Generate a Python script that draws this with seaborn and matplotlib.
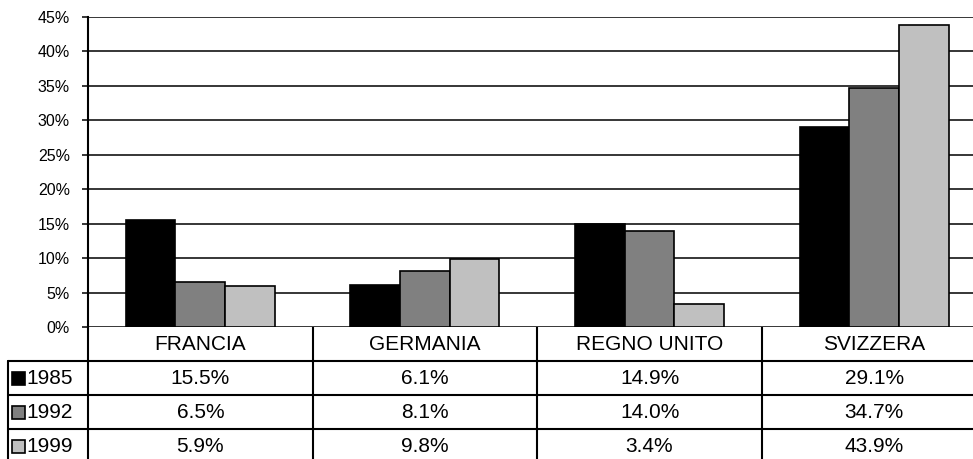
import matplotlib
matplotlib.use("Agg")
import matplotlib.pyplot as plt
import matplotlib.patches as mpatches
import seaborn as sns
import pandas as pd

# Data
countries = ["FRANCIA", "GERMANIA", "REGNO UNITO", "SVIZZERA"]
years = ["1985", "1992", "1999"]
share_1985 = [15.5, 6.1, 14.9, 29.1]
share_1992 = [6.5, 8.1, 14.0, 34.7]
share_1999 = [5.9, 9.8, 3.4, 43.9]
y_ticks = [0, 5, 10, 15, 20, 25, 30, 35, 40, 45]
colors = ["#000000", "#808080", "#C0C0C0"]

series = [share_1985, share_1992, share_1999]
df = pd.DataFrame(
    [(c, y, v) for y, vals in zip(years, series) for c, v in zip(countries, vals)],
    columns=["country", "year", "value"],
)

W, H = 973, 459
sns.set_theme(style="white")
plt.rcParams["font.family"] = ["Liberation Sans", "DejaVu Sans"]

fig = plt.figure(figsize=(W / 100, H / 100), dpi=100)
fig.patch.set_facecolor("white")

# Bar chart area (pixel layout converted to figure fractions);
# the plot runs slightly past the right edge of the canvas
left_px, right_px, top_px, bottom_px = 88, 986.5, 17, 327
ax = fig.add_axes([left_px / W, 1 - bottom_px / H,
                   (right_px - left_px) / W, (bottom_px - top_px) / H])

sns.barplot(data=df, x="country", y="value", hue="year", order=countries,
            hue_order=years, palette=colors, width=0.663, gap=0,
            edgecolor="black", linewidth=1.2, saturation=1, ax=ax, legend=False)

ax.set_xlim(-0.5, len(countries) - 0.5)
ax.set_ylim(0, 45)
ax.set_yticks(y_ticks)
ax.set_yticklabels([f"{t}%" for t in y_ticks], fontsize=11.5)
ax.set_xticks([])
ax.set_xlabel("")
ax.set_ylabel("")
ax.yaxis.grid(True, color="black", linewidth=1.1)
ax.set_axisbelow(True)
ax.tick_params(axis="y", direction="out", length=4, width=1.1, pad=9,
               left=True, colors="black")
for side in ["top", "right", "bottom"]:
    ax.spines[side].set_visible(False)
ax.spines["left"].set_color("black")
ax.spines["left"].set_linewidth(1.5)
ax.spines["left"].set_zorder(5)

# Data table underneath, drawn in pixel coordinates
tab = fig.add_axes([0, 0, 1, 1], zorder=-1)
tab.set_xlim(0, W)
tab.set_ylim(H, 0)
tab.axis("off")

fig.canvas.draw()
def col_px(x):
    return ax.transData.transform((x, 0))[0]

edges = [col_px(i - 0.5) for i in range(len(countries) + 1)]
centers = [col_px(i) for i in range(len(countries))]

header_top = bottom_px
row_h = 34
row_tops = [header_top + row_h * (k + 1) for k in range(len(years))]
table_left = 8
lw = 1.5
fs = 15

# vertical separators
for x in edges[:-1]:
    tab.plot([x, x], [header_top, H + 5], color="black", lw=lw)
tab.plot([table_left, table_left], [row_tops[0], H + 5], color="black", lw=lw)
# horizontal separators
for y in row_tops:
    tab.plot([table_left, W + 5], [y, y], color="black", lw=lw)

# header row labels
for cx, name in zip(centers, countries):
    tab.text(cx, header_top + row_h / 2 + 1, name, ha="center", va="center",
             fontsize=fs, color="black")

# row headers with legend keys, and cell values
for k, (yr, vals, col) in enumerate(zip(years, series, colors)):
    ymid = row_tops[k] + row_h / 2 + 1
    tab.add_patch(mpatches.Rectangle((12, ymid - 7), 13, 13, facecolor=col,
                                     edgecolor="black", lw=1.2))
    tab.text(26, ymid, yr, ha="left", va="center", fontsize=fs, color="black")
    for cx, v in zip(centers, vals):
        tab.text(cx, ymid, f"{v:.1f}%", ha="center", va="center",
                 fontsize=fs, color="black")

fig.savefig("out.png", dpi=100, facecolor="white")
